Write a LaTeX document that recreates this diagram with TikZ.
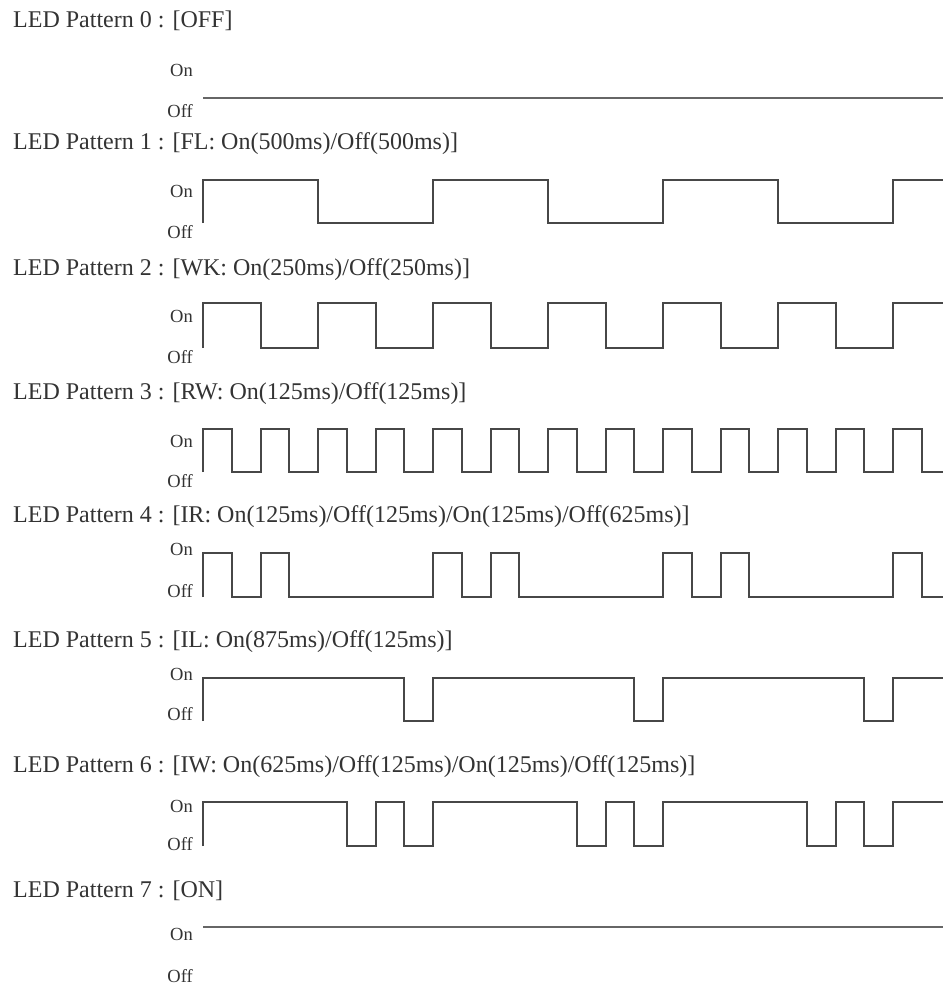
\documentclass[tikz,border=0pt]{standalone}
\usepackage{fontspec}
\setmainfont{Liberation Serif}

\begin{document}
\begin{tikzpicture}[x=1pt,y=-1pt,line join=miter,
  title/.style={anchor=base west,inner sep=0pt,font=\fontsize{24}{26}\selectfont,text=black!80},
  level/.style={anchor=base east,inner sep=0pt,font=\fontsize{18.5}{20}\selectfont,text=black!80},
  wave/.style={draw=black!72,line width=2pt},
  flat/.style={draw=black!60,line width=1.2pt}]
\useasboundingbox (0,0) rectangle (943,986);
% titles
\node[title] (p0) at (13,27) {LED Pattern 0 : [OFF]};
\node[title] (p1) at (13,149) {LED Pattern 1 : [FL: On(500ms)/Off(500ms)]};
\node[title] (p2) at (13,275) {LED Pattern 2 : [WK: On(250ms)/Off(250ms)]};
\node[title] (p3) at (13,399) {LED Pattern 3 : [RW: On(125ms)/Off(125ms)]};
\node[title] (p4) at (13,522) {LED Pattern 4 : [IR: On(125ms)/Off(125ms)/On(125ms)/Off(625ms)]};
\node[title] (p5) at (13,647) {LED Pattern 5 : [IL: On(875ms)/Off(125ms)]};
\node[title] (p6) at (13,772) {LED Pattern 6 : [IW: On(625ms)/Off(125ms)/On(125ms)/Off(125ms)]};
\node[title] (p7) at (13,897) {LED Pattern 7 : [ON]};
% on / off levels
\node[level] (on0) at (193,76) {On};  \node[level] (off0) at (193,117) {Off};
\node[level] (on1) at (193,197) {On}; \node[level] (off1) at (193,238) {Off};
\node[level] (on2) at (193,322) {On}; \node[level] (off2) at (193,363) {Off};
\node[level] (on3) at (193,447) {On}; \node[level] (off3) at (193,487) {Off};
\node[level] (on4) at (193,555) {On}; \node[level] (off4) at (193,597) {Off};
\node[level] (on5) at (193,680) {On}; \node[level] (off5) at (193,720) {Off};
\node[level] (on6) at (193,812) {On}; \node[level] (off6) at (193,850) {Off};
\node[level] (on7) at (193,940) {On}; \node[level] (off7) at (193,982) {Off};
% waveforms
\draw[flat] (203,98) -- (943,98);
\draw[wave] (203,223) -- (203,180) -- (318,180) -- (318,223) -- (433,223) -- (433,180) -- (548,180) -- (548,223) -- (663,223) -- (663,180) -- (778,180) -- (778,223) -- (893,223) -- (893,180) -- (943,180);
\draw[wave] (203,348) -- (203,303) -- (260.5,303) -- (260.5,348) -- (318,348) -- (318,303) -- (375.5,303) -- (375.5,348) -- (433,348) -- (433,303) -- (490.5,303) -- (490.5,348) -- (548,348) -- (548,303) -- (605.5,303) -- (605.5,348) -- (663,348) -- (663,303) -- (720.5,303) -- (720.5,348) -- (778,348) -- (778,303) -- (835.5,303) -- (835.5,348) -- (893,348) -- (893,303) -- (943,303);
\draw[wave] (203,472) \foreach \k in {0,...,11}{ -- ({203+57.5*\k},429) -- ({231.75+57.5*\k},429) -- ({231.75+57.5*\k},472) -- ({260.5+57.5*\k},472)} -- (893,429) -- (921.75,429) -- (921.75,472) -- (943,472);
\draw[wave] (203,597) -- (203,553) -- (231.75,553) -- (231.75,597) -- (260.5,597) -- (260.5,553) -- (289.25,553) -- (289.25,597) -- (433,597) -- (433,553) -- (461.75,553) -- (461.75,597) -- (490.5,597) -- (490.5,553) -- (519.25,553) -- (519.25,597) -- (663,597) -- (663,553) -- (691.75,553) -- (691.75,597) -- (720.5,597) -- (720.5,553) -- (749.25,553) -- (749.25,597) -- (893,597) -- (893,553) -- (921.75,553) -- (921.75,597) -- (943,597);
\draw[wave] (203,721) -- (203,678) -- (404.25,678) -- (404.25,721) -- (433,721) -- (433,678) -- (634.25,678) -- (634.25,721) -- (663,721) -- (663,678) -- (864.25,678) -- (864.25,721) -- (893,721) -- (893,678) -- (943,678);
\draw[wave] (203,846) -- (203,802) -- (346.75,802) -- (346.75,846) -- (375.5,846) -- (375.5,802) -- (404.25,802) -- (404.25,846) -- (433,846) -- (433,802) -- (576.75,802) -- (576.75,846) -- (605.5,846) -- (605.5,802) -- (634.25,802) -- (634.25,846) -- (663,846) -- (663,802) -- (806.75,802) -- (806.75,846) -- (835.5,846) -- (835.5,802) -- (864.25,802) -- (864.25,846) -- (893,846) -- (893,802) -- (943,802);
\draw[flat] (203,927) -- (943,927);
\end{tikzpicture}
\end{document}
